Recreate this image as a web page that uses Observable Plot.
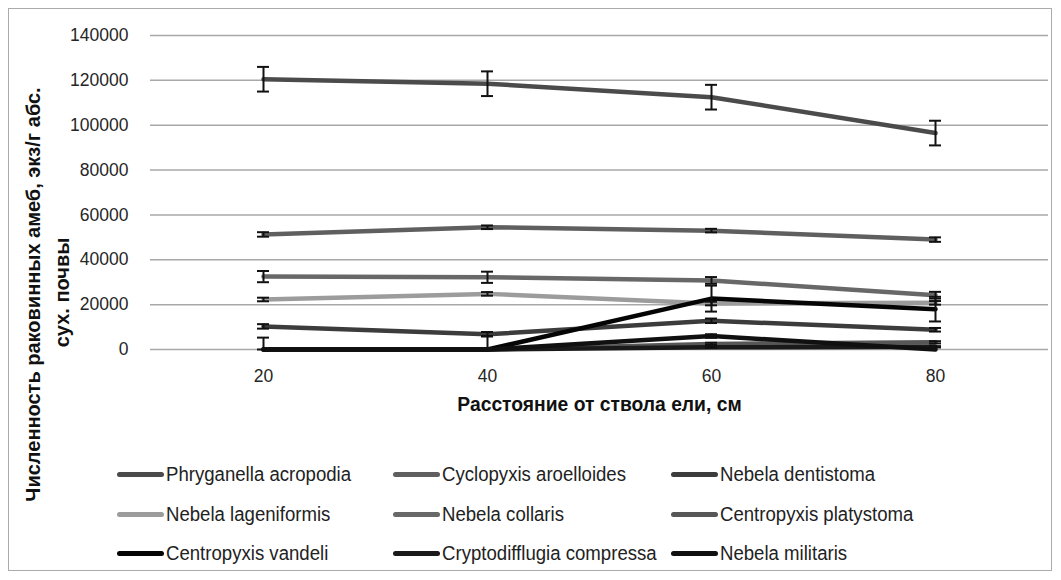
<!DOCTYPE html>
<html>
<head>
<meta charset="utf-8">
<script src="https://cdn.jsdelivr.net/npm/d3@7"></script>
<script src="https://cdn.jsdelivr.net/npm/@observablehq/plot@0.6"></script>
<style>
  html, body { margin: 0; padding: 0; background: #fff; }
  #chart { position: relative; width: 1061px; height: 580px; overflow: hidden; }
  #frame { position: absolute; left: 8px; top: 8px; width: 1044px; height: 563px; border: 1.5px solid #ababab; box-sizing: border-box; pointer-events: none; }
  #plot { position: absolute; left: 0; top: 0; }
  #legend {
    position: absolute; left: 117px; top: 455px;
    display: grid; grid-template-columns: 276px 278px auto; grid-auto-rows: 39.5px;
    font-family: "Liberation Sans Narrow", "Liberation Sans", sans-serif; font-size: 20px; color: #222;
  }
  .item { display: flex; align-items: center; white-space: nowrap; }
  .swatch { width: 47px; height: 5px; border-radius: 3px; margin-right: 2px; flex: none; }
  .label { display: inline-block; transform: scaleX(0.93); transform-origin: left center; }
</style>
</head>
<body>
<div id="chart">
  <div id="plot"></div>
  <div id="legend"></div>
  <div id="frame"></div>
</div>
<script>
// Distance from the spruce trunk, cm
const distances = [20, 40, 60, 80];

// Species, in legend order
const species = [
  "Phryganella acropodia",
  "Cyclopyxis aroelloides",
  "Nebela dentistoma",
  "Nebela lageniformis",
  "Nebela collaris",
  "Centropyxis platystoma",
  "Centropyxis vandeli",
  "Cryptodifflugia compressa",
  "Nebela militaris"
];

// Line colours per species
const colors = ["#4b4b4b", "#5f5f5f", "#3c3c3c", "#9c9c9c", "#686868", "#575757", "#050505", "#1a1a1a", "#101010"];

// Mean abundance, specimens per g of absolutely dry soil
const phryganella    = [120500, 118500, 112500, 96500];
const cyclopyxis     = [51300, 54500, 53000, 49000];
const dentistoma     = [10300, 6800, 12800, 8800];
const lageniformis   = [22300, 24800, 20500, 20800];
const collaris       = [32500, 32200, 30800, 24200];
const platystoma     = [0, 0, 2500, 3200];
const vandeli        = [0, 0, 22700, 18000];
const cryptodifflugia = [0, 0, 1000, 1200];
const militaris      = [0, 0, 6000, 0];

// Error (± half-width) for each mean
const phryganellaErr    = [5500, 5500, 5500, 5500];
const cyclopyxisErr     = [1000, 800, 800, 1000];
const dentistomaErr     = [1000, 1000, 1000, 800];
const lageniformisErr   = [800, 800, 800, 800];
const collarisErr       = [2500, 2500, 1500, 1500];
const platystomaErr     = [0, 0, 500, 500];
const vandeliErr        = [5300, 6000, 5800, 5500];
const cryptodifflugiaErr = [0, 0, 300, 300];
const militarisErr      = [0, 0, 800, 0];

// Y axis ticks
const yTicks = [0, 20000, 40000, 60000, 80000, 100000, 120000, 140000];

const yTitle1 = "Численность раковинных амеб, экз/г абс.";
const yTitle2 = "сух. почвы";
const xTitle = "Расстояние от ствола ели, см";

const seriesValues = [phryganella, cyclopyxis, dentistoma, lageniformis, collaris, platystoma, vandeli, cryptodifflugia, militaris];
const seriesErrors = [phryganellaErr, cyclopyxisErr, dentistomaErr, lageniformisErr, collarisErr, platystomaErr, vandeliErr, cryptodifflugiaErr, militarisErr];

const rows = species.flatMap((s, i) => distances.map((d, j) => ({
  species: s,
  distance: d,
  value: seriesValues[i][j],
  err: seriesErrors[i][j],
  lo: Math.max(0, seriesValues[i][j] - seriesErrors[i][j]),
  hi: seriesValues[i][j] + seriesErrors[i][j]
})));
const withErr = rows.filter(r => r.err > 0);

const tickFont = "Liberation Sans";
const capStyle = { x1: "distance", x2: "distance", stroke: "#111", strokeWidth: 2, insetLeft: -6, insetRight: -6 };
const chart = Plot.plot({
  width: 1061,
  height: 580,
  marginLeft: 150,
  marginRight: 13,
  marginTop: 35,
  marginBottom: 231,
  x: { type: "point", domain: distances, padding: 0.5 },
  y: { domain: [0, 140000] },
  color: { domain: species, range: colors },
  style: { fontFamily: tickFont, fontSize: "17.5px", color: "#262626", background: "transparent", overflow: "visible" },
  marks: [
    Plot.gridY({ ticks: yTicks, stroke: "#a8a8a8", strokeOpacity: 1, strokeWidth: 1.5 }),
    Plot.axisY({ ticks: yTicks, tickSize: 0, tickPadding: 22, tickFormat: d3.format("d"), label: null }),
    Plot.axisX({ tickSize: 0, tickPadding: 20, label: null }),
    Plot.line(rows, { x: "distance", y: "value", z: "species", stroke: "species", strokeWidth: 4.5, strokeLinejoin: "round" }),
    Plot.ruleX(withErr, { x: "distance", y1: "lo", y2: "hi", stroke: "#111", strokeWidth: 2 }),
    Plot.ruleY(withErr, { y: "hi", ...capStyle }),
    Plot.ruleY(withErr, { y: "lo", ...capStyle }),
    Plot.text([xTitle], { text: d => d, frameAnchor: "bottom", dy: 61, fontWeight: "bold", fontSize: 19.3, fill: "#111" }),
    Plot.text([yTitle1], { text: d => d, frameAnchor: "left", textAnchor: "middle", rotate: -90, dx: -117, dy: 102, fontWeight: "bold", fontSize: 20, fill: "#111" }),
    Plot.text([yTitle2], { text: d => d, frameAnchor: "left", textAnchor: "middle", rotate: -90, dx: -88, dy: 100, fontWeight: "bold", fontSize: 20, fill: "#111" })
  ]
});
document.getElementById("plot").append(chart);

// Legend: three columns, three rows
const legend = document.getElementById("legend");
species.forEach((s, i) => {
  const item = document.createElement("div");
  item.className = "item";
  const sw = document.createElement("span");
  sw.className = "swatch";
  sw.style.background = colors[i];
  const label = document.createElement("span");
  label.className = "label";
  label.textContent = s;
  item.append(sw, label);
  legend.append(item);
});
</script>
</body>
</html>
